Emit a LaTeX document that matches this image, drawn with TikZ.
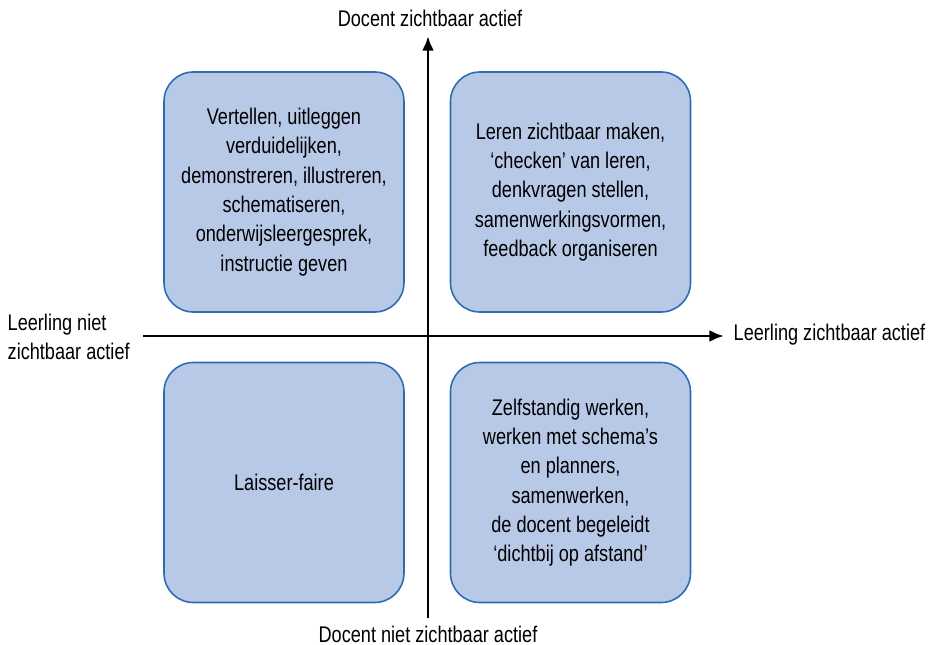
\documentclass[tikz,border=0pt]{standalone}
\usepackage{fontspec}
\setmainfont{Liberation Sans}[FakeStretch=0.8]
\usetikzlibrary{arrows.meta}
\definecolor{boxfill}{HTML}{B8C9E8}
\definecolor{boxline}{HTML}{2E6DB4}
\begin{document}
\begin{tikzpicture}[x=0.75pt,y=-0.75pt,
  quad/.style={draw=boxline,fill=boxfill,line width=1.2pt,rounded corners=22pt,
    minimum width=180pt,minimum height=180pt,align=center,
    font=\fontsize{17pt}{22pt}\selectfont},
  lbl/.style={font=\fontsize{17pt}{22pt}\selectfont},
  axis/.style={line width=2.2pt,-{Latex[length=11pt,width=9pt]}}]
\useasboundingbox (0,0) rectangle (933,645);
\node[quad] (tl) at (284,192) {Vertellen, uitleggen\\verduidelijken,\\demonstreren, illustreren,\\schematiseren,\\onderwijsleergesprek,\\instructie geven};
\node[quad] (tr) at (570.5,192) {Leren zichtbaar maken,\\`checken' van leren,\\denkvragen stellen,\\samenwerkingsvormen,\\feedback organiseren};
\node[quad] (bl) at (284,482.5) {Laisser-faire};
\node[quad] (br) at (570.5,482.5) {Zelfstandig werken,\\werken met schema's\\en planners,\\samenwerken,\\de docent begeleidt\\`dichtbij op afstand'};
\node[lbl] (top) at (430,18) {Docent zichtbaar actief};
\node[lbl] (bot) at (428,634) {Docent niet zichtbaar actief};
\node[lbl,anchor=west,align=left] (left) at (3,337) {Leerling niet\\zichtbaar actief};
\node[lbl,anchor=west] (right) at (729,335) {Leerling zichtbaar actief};
\coordinate (vs) at (428,618);
\coordinate (ve) at (428,36);
\coordinate (hs) at (143,336);
\coordinate (he) at (724,336);
\draw[axis] (vs) -- (ve);
\draw[axis] (hs) -- (he);
\end{tikzpicture}
\end{document}
